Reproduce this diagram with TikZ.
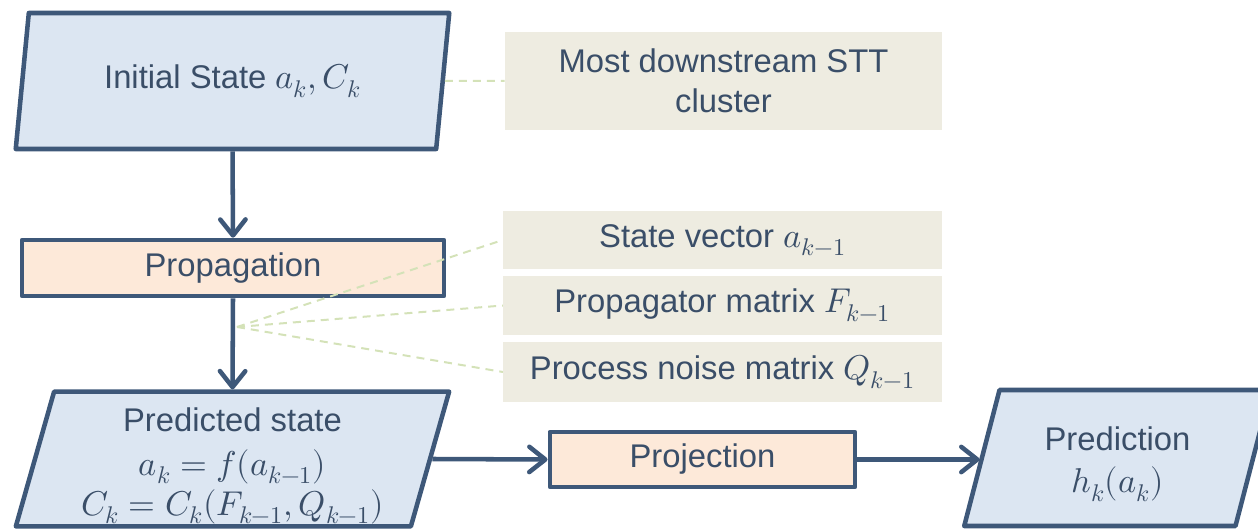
\documentclass[tikz,border=0pt]{standalone}
\usepackage{fontspec}
\usepackage{unicode-math}
\setmainfont{Liberation Sans}
\setmathfont{Latin Modern Math}[Scale=1.05]
\usetikzlibrary{shapes.geometric,arrows.meta}

\definecolor{edge}{RGB}{62,88,121}
\definecolor{ink}{RGB}{58,78,104}
\definecolor{statefill}{RGB}{220,230,242}
\definecolor{stepfill}{RGB}{253,233,217}
\definecolor{notefill}{RGB}{238,236,225}
\definecolor{leader}{RGB}{212,226,184}

\begin{document}
\begin{tikzpicture}[x=0.75pt,y=-0.75pt,
  every node/.style={text=ink,font=\fontsize{24.6}{30}\selectfont,align=center,inner sep=0pt},
  statebox/.style={trapezium,trapezium left angle=76,trapezium right angle=104,
    trapezium stretches=true,draw=edge,fill=statefill,line width=3.4pt,line join=round},
  stepbox/.style={rectangle,draw=edge,fill=stepfill,line width=3.4pt,line join=round},
  notebox/.style={rectangle,fill=notefill},
  flow/.style={draw=edge,line width=3.4pt,-{Straight Barb[length=12pt,width=19pt,round]}},
  leaderline/.style={draw=leader,line width=1.5pt,dash pattern=on 6pt off 4.5pt}]

\useasboundingbox (0,0) rectangle (1258,531);
\clip (0,0) rectangle (1258,531);

% main chain
\node[statebox,minimum width=326pt,minimum height=102pt] (init) at (232.5,81)
  {Initial State $a_k, C_k$};
\node[stepbox,minimum width=316.5pt,minimum height=42pt] (prop) at (233,268)
  {Propagation};
\node[statebox,minimum width=326pt,minimum height=101pt] (pred) at (232.5,459)
  {\strut\\[-23pt]Predicted state\\[3pt] $a_k = f(a_{k-1})$\\[0pt] $C_k = C_k(F_{k-1}, Q_{k-1})$};
\node[stepbox,minimum width=229pt,minimum height=41pt] (proj) at (702.5,459.5)
  {Projection};
\node[statebox,minimum width=230pt,minimum height=102pt] (pdn) at (1117.5,458)
  {\strut\\[-24pt]Prediction\\[2pt] $h_k(a_k)$};

% annotation boxes
\node[notebox,minimum width=328pt,minimum height=73.5pt] (most) at (723.5,81)
  {Most downstream STT\\cluster};
\node[notebox,minimum width=329pt,minimum height=43.5pt] (svec) at (722.5,240)
  {State vector $a_{k-1}$};
\node[notebox,minimum width=329pt,minimum height=44pt] (fmat) at (722.5,305.5)
  {Propagator matrix $F_{k-1}$};
\node[notebox,minimum width=329pt,minimum height=45pt] (qmat) at (722.5,372)
  {Process noise matrix $Q_{k-1}$};

% flow arrows
\path[flow] (init.south) -- (prop.north);
\path[flow] (prop.south) -- (pred.north);
\path[flow] (pred.east) -- (proj.west);
\path[flow] (proj.east) -- (proj.east -| pdn.west);

% dashed leaders
\coordinate (hub) at (237,327);
\path[leaderline] (init.east) -- (most.west);
\path[leaderline] (hub) -- (svec.west);
\path[leaderline] (hub) -- (fmat.west);
\path[leaderline] (hub) -- (qmat.west);
\end{tikzpicture}
\end{document}
